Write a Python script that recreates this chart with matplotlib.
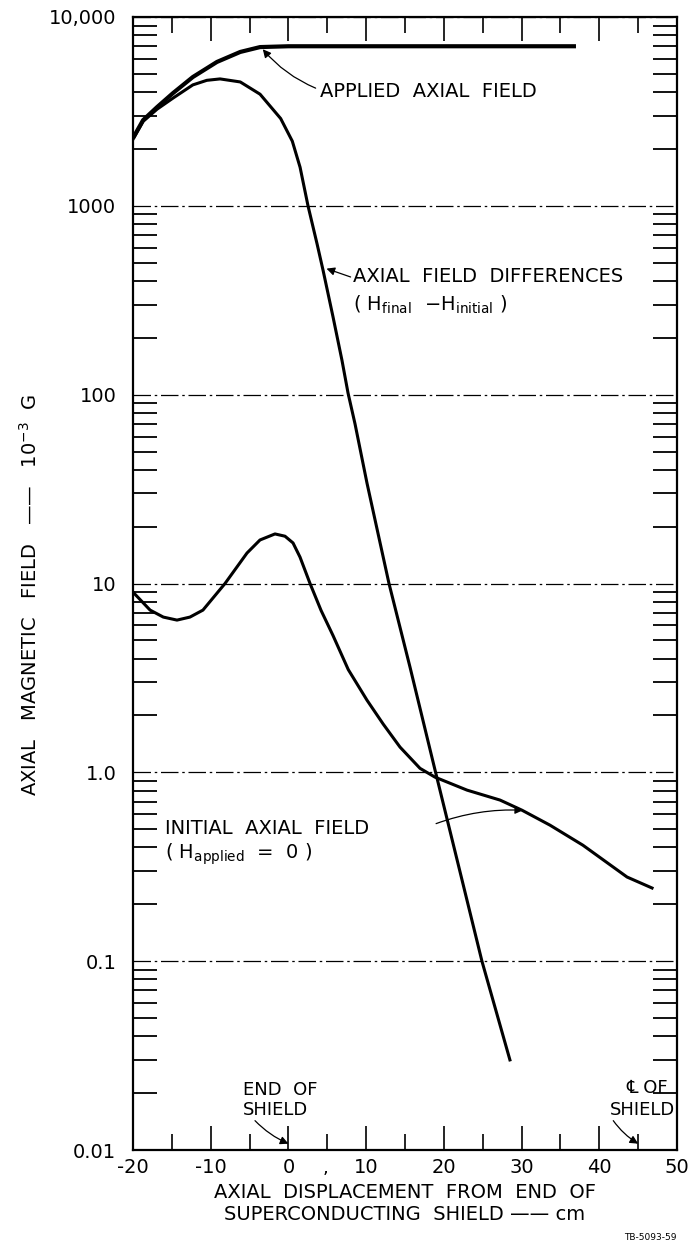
import matplotlib.pyplot as plt
from matplotlib.ticker import FixedLocator, MultipleLocator, LogLocator, NullFormatter

# applied axial field (thick curve, flat top)
applied_x = [-20, -18.7, -16.9, -14.85, -12.3, -9.2, -6.2, -3.65, 0, 10, 20, 30, 37]
applied_y = [2286, 2844, 3334, 3954, 4810, 5780, 6530, 6930, 7000, 7000, 7000, 7000, 7000]

# axial field differences (H_final - H_initial)
diff_x = [-20, -18.7, -16.9, -14.85, -12.3, -10.5, -8.8, -6.2, -3.65, -1.0, 0.5, 1.5, 2.52,
          3.68, 4.45, 5.74, 6.89, 7.67, 8.57, 10.11, 12.94, 15.65, 18.86, 22.34, 24.9, 28.5]
diff_y = [2250, 2800, 3250, 3720, 4370, 4620, 4700, 4530, 3900, 2900, 2200, 1600, 1000,
          630, 457, 258, 152, 102, 70, 34, 10, 3.6, 1.03, 0.269, 0.1, 0.030]

# initial axial field (H_applied = 0)
init_x = [-20, -17.8, -16.1, -14.34, -12.67, -11.0, -8.16, -5.33, -3.66, -1.73, -0.44, 0.59,
          1.49, 2.78, 4.2, 5.74, 7.7, 10.11, 12.2, 14.36, 16.93, 18.86, 22.98, 27.23, 30.06,
          33.66, 37.9, 43.57, 46.79]
init_y = [9.0, 7.23, 6.64, 6.4, 6.64, 7.23, 10, 14.5, 17.0, 18.3, 17.8, 16.4,
          13.8, 10, 7.2, 5.3, 3.5, 2.41, 1.8, 1.36, 1.05, 0.943, 0.805, 0.713, 0.63,
          0.525, 0.411, 0.279, 0.244]

x_ticks = [-20, -10, 0, 10, 20, 30, 40, 50]
x_labels = ["-20", "-10", "0", "10", "20", "30", "40", "50"]
y_ticks = [0.01, 0.1, 1, 10, 100, 1000, 10000]
y_labels = ["0.01", "0.1", "1.0", "10", "100", "1000", "10,000"]

plt.rcParams['font.family'] = ['DejaVu Sans']
plt.rcParams['mathtext.fontset'] = 'dejavusans'

fig = plt.figure(figsize=(6.94, 12.48), dpi=100)
ax = fig.add_axes([133 / 694, 1 - 1150 / 1248, 544 / 694, 1133 / 1248])

ax.plot(applied_x, applied_y, color='black', lw=3.0, solid_capstyle='butt')
ax.plot(diff_x, diff_y, color='black', lw=2.2)
ax.plot(init_x, init_y, color='black', lw=2.2)

ax.set_yscale('log')
ax.set_xlim(-20, 50)
ax.set_ylim(0.01, 10000)

ax.xaxis.set_major_locator(FixedLocator(x_ticks))
ax.set_xticklabels(x_labels, fontsize=14)
ax.xaxis.set_minor_locator(MultipleLocator(5))
ax.yaxis.set_major_locator(FixedLocator(y_ticks))
ax.set_yticklabels(y_labels, fontsize=14)
ax.yaxis.set_minor_locator(LogLocator(base=10, subs=range(2, 10)))
ax.yaxis.set_minor_formatter(NullFormatter())

ax.tick_params(axis='x', which='major', direction='in', top=True, length=17, width=1.2, pad=6)
ax.tick_params(axis='x', which='minor', direction='in', top=True, length=11.5, width=1.2)
ax.tick_params(axis='y', which='major', direction='in', right=True, length=0, pad=12)
ax.tick_params(axis='y', which='minor', direction='in', right=True, length=17, width=1.3)

for s in ax.spines.values():
    s.set_linewidth(1.6)

ax.yaxis.grid(True, which='major', color='black', lw=0.9, linestyle=(0, (14, 3, 2, 3)))

# annotations
ax.text(4.1, 4010, "APPLIED  AXIAL  FIELD", fontsize=14, ha='left', va='center')
ax.annotate("", xy=(-3.3, 6750), xytext=(3.5, 4200),
            arrowprops=dict(arrowstyle='-|>', color='black', lw=0.9, mutation_scale=12,
                            connectionstyle='arc3,rad=-0.12', shrinkA=0, shrinkB=0))

ax.text(8.3, 425, "AXIAL  FIELD  DIFFERENCES", fontsize=14, ha='left', va='center')
ax.text(8.3, 298, r"( H$_{\rm final}$  $-$H$_{\rm initial}$ )", fontsize=14, ha='left', va='center')
ax.annotate("", xy=(4.9, 465), xytext=(8.0, 420),
            arrowprops=dict(arrowstyle='-|>', color='black', lw=0.9, mutation_scale=12,
                            shrinkA=0, shrinkB=0))

ax.text(-15.9, 0.506, "INITIAL  AXIAL  FIELD", fontsize=14, ha='left', va='center')
ax.text(-15.9, 0.37, r"( H$_{\rm applied}$  =  0 )", fontsize=14, ha='left', va='center')
ax.annotate("", xy=(30.2, 0.63), xytext=(19.0, 0.535),
            arrowprops=dict(arrowstyle='-|>', color='black', lw=0.9, mutation_scale=12,
                            connectionstyle='arc3,rad=-0.1', shrinkA=0, shrinkB=0))

ax.text(-5.9, 0.0207, "END  OF", fontsize=13, ha='left', va='center')
ax.text(-5.9, 0.0162, "SHIELD", fontsize=13, ha='left', va='center')
ax.annotate("", xy=(0, 0.0108), xytext=(-4.3, 0.0143),
            arrowprops=dict(arrowstyle='-|>', color='black', lw=0.9, mutation_scale=12,
                            connectionstyle='arc3,rad=0.1', shrinkA=0, shrinkB=0))

ax.text(48.9, 0.0212, "\u2104 OF", fontsize=13, ha='right', va='center')
ax.text(49.8, 0.0162, "SHIELD", fontsize=13, ha='right', va='center')
ax.annotate("", xy=(45, 0.0108), xytext=(41.8, 0.0143),
            arrowprops=dict(arrowstyle='-|>', color='black', lw=0.9, mutation_scale=12,
                            connectionstyle='arc3,rad=0.1', shrinkA=0, shrinkB=0))

# stray comma between 0 and 10 on the original
ax.text(4.8, -0.016, ",", fontsize=13, ha='center', va='center',
        transform=ax.get_xaxis_transform())

fig.text(30 / 694, 1 - 595 / 1248, r"AXIAL   MAGNETIC   FIELD   ——   10$^{-3}$  G",
         fontsize=14, rotation=90, ha='center', va='center')
fig.text(405 / 694, 1 - 1193 / 1248, "AXIAL  DISPLACEMENT  FROM  END  OF",
         fontsize=14, ha='center', va='center')
fig.text(405 / 694, 1 - 1214 / 1248, "SUPERCONDUCTING  SHIELD —— cm",
         fontsize=14, ha='center', va='center')
fig.text(650 / 694, 1 - 1238 / 1248, "TB-5093-59", fontsize=6.5, ha='center', va='center')

fig.savefig("out.png", dpi=100)
